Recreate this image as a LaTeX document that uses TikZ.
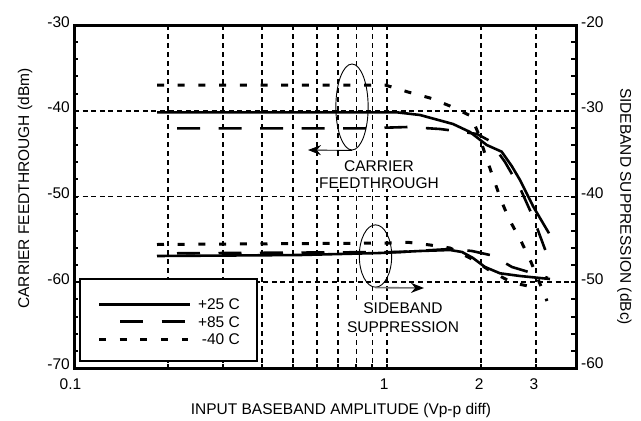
\documentclass[tikz,border=0pt]{standalone}
\usepackage{fontspec}
\setmainfont{Liberation Sans}
\usetikzlibrary{arrows.meta,shapes.geometric}
\begin{document}
\begin{tikzpicture}[x=1pt,y=-1pt,
  every node/.style={font=\fontsize{15.5}{17}\selectfont, inner sep=0pt},
  hgrid/.style={line width=1.6pt, dash pattern=on 5pt off 3.6pt},
  vgrid/.style={line width=1.8pt, dash pattern=on 5pt off 4pt},
  frame/.style={line width=3pt},
  tplus/.style={line width=2.6pt, line join=round},
  thot/.style={line width=2.6pt, dash pattern=on 23pt off 18.5pt},
  tcold/.style={line width=3pt, dash pattern=on 7pt off 13.7pt},
  ell/.style={draw, ellipse, line width=0.9pt},
  lbl/.style={fill=white, inner sep=1pt, align=center},
  tick/.style={line width=2pt},
]
\fill[white] (0,0) rectangle (641,421);
\useasboundingbox (0,0) rectangle (641,421);

% vertical grid lines
\foreach \xx in {168.1,223.2,262.2,292.6,317.3,338.3,356.4,372.4,386.7,480.8,535.9}
  \draw[vgrid] (\xx,25) -- (\xx,368);
% horizontal grid lines
\foreach \yy in {110.75,196.5,282.25}
  \draw[hgrid] (74,\yy) -- (576,\yy);

% carrier feedthrough curves
\draw[tplus] (157,112.3) -- (250,112.3) -- (396.7,112.3) -- (420,115) -- (453,124) -- (470,132) -- (486.7,145) -- (501.7,151.7) -- (511.7,166) -- (520,180) -- (533.3,206.7) -- (549,233.3);
\draw[thot] (177,128.3) -- (365,128.3) -- (408,127) -- (440,129) -- (460,131.5) -- (477,134) -- (490,141) -- (505,162) -- (520,188) -- (533,217) -- (549,260);
\draw[tcold] (157,85) -- (385,85) -- (395,88) -- (408,92) -- (430,98) -- (450,106) -- (471,116) -- (479,135) -- (486,157) -- (493,177) -- (501,200) -- (509,219) -- (521,241) -- (531,262) -- (547,301);

% sideband suppression curves
\draw[tplus] (157,256) -- (300,255) -- (380,253) -- (420,251) -- (450,250) -- (462,252) -- (473,258) -- (485,267) -- (500,273.3) -- (520,276) -- (550,279);
\draw[thot] (177,253.3) -- (400,252) -- (450,249) -- (472,251) -- (490,255) -- (500,260) -- (512,267) -- (533,273.3) -- (548,278);
\draw[tcold] (157,244.5) -- (390,243) -- (408,242.3) -- (430,245) -- (450,248) -- (470,258) -- (491.7,271.7) -- (513,283) -- (535,287.3) -- (540,288);

% legend
\draw[line width=2pt, fill=white] (80,279) rectangle (257,360.7);
\draw[tplus] (99,304.3) -- (190,304.3);
\draw[thot] (120,321.7) -- (185,321.7);
\draw[tcold] (99,339.3) -- (188,339.3);
\node[anchor=east] (l25) at (240,304.3) {+25 C};
\node[anchor=east] (l85) at (240,321.7) {+85 C};
\node[anchor=east] (l40) at (240,339.3) {-40 C};

% frame and ticks
\foreach \k in {1,...,19} {
  \draw[tick] (74,25+\k*17.15) -- (78,25+\k*17.15);
  \draw[tick] (576,25+\k*17.15) -- (571,25+\k*17.15);
}
\foreach \xx in {168.1,223.2,262.2,292.6,317.3,338.3,356.4,372.4,386.7,480.8,535.9}
  \draw[tick] (\xx,368) -- (\xx,364);
\draw[frame] (74,25) rectangle (576,368);

% tick labels
\node[anchor=east] (ly30) at (70,22) {-30};
\node[anchor=east] (ly40) at (70,107.5) {-40};
\node[anchor=east] (ly50) at (70,193.5) {-50};
\node[anchor=east] (ly60) at (70,279.5) {-60};
\node[anchor=east] (ly70) at (70,364) {-70};
\node[anchor=west] (ry20) at (581,22) {-20};
\node[anchor=west] (ry30) at (581,107.5) {-30};
\node[anchor=west] (ry40) at (581,193) {-40};
\node[anchor=west] (ry50) at (581,279.5) {-50};
\node[anchor=west] (ry60) at (581,363.5) {-60};
\node (bx01) at (70.5,384) {0.1};
\node (bx1) at (384.3,384) {1};
\node (bx2) at (479.3,384) {2};
\node (bx3) at (534,384) {3};

% axis titles
\node (xt) at (341,410) {INPUT BASEBAND AMPLITUDE (Vp-p diff)};
\node[rotate=90] (yl) at (25,188.5) {CARRIER FEEDTHROUGH (dBm)};
\node[rotate=-90] (yr) at (624.5,206.5) {SIDEBAND SUPPRESSION (dBc)};

% annotations
\node[ell, minimum width=32.3pt, minimum height=86pt] (ec) at (352,107) {};
\node[ell, minimum width=32.4pt, minimum height=62.3pt] (es) at (375.5,256) {};
\coordinate (ac) at (308,150);
\coordinate (as) at (424,288);
\draw[line width=0.9pt, -{Stealth[length=13pt,width=10pt]}] (ec.south) -- (ac);
\draw[line width=1.6pt, draw=black!55, -{Stealth[length=13pt,width=10pt,black]}] (es.south) -- (as);
\node[lbl, font=\fontsize{15.5}{16.7}\selectfont] (tc) at (379,174.5) {CARRIER\\FEEDTHROUGH};
\node[lbl, font=\fontsize{15.5}{18.4}\selectfont] (ts) at (403,317.5) {SIDEBAND\\SUPPRESSION};
\end{tikzpicture}
\end{document}
